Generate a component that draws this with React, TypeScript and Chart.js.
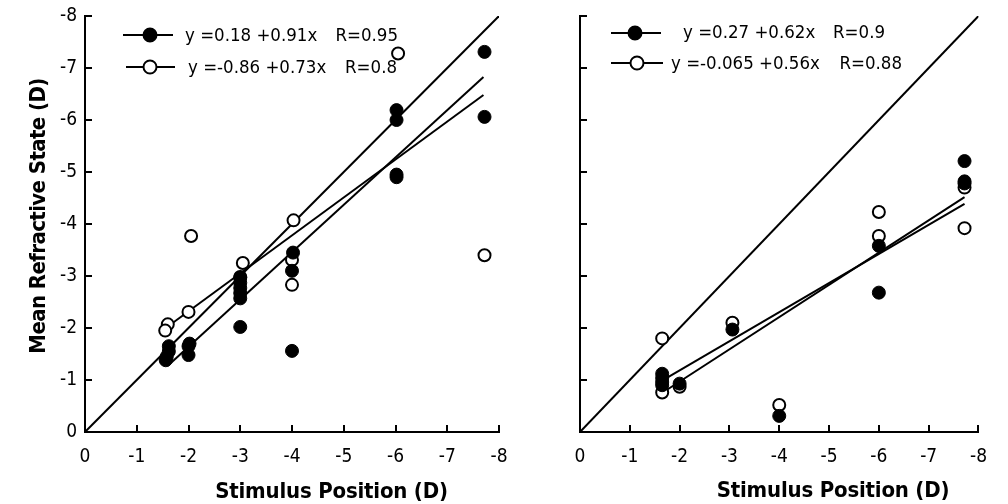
import React, { useEffect, useRef } from "react";
import { Chart, registerables } from "chart.js";

Chart.register(...registerables);

// ---------- data ----------
const axisMin = -8;
const axisMax = 0;

const leftFilled = [
  { x: -1.62, y: -1.65 }, { x: -1.62, y: -1.55 }, { x: -1.58, y: -1.45 }, { x: -1.56, y: -1.38 },
  { x: -2.02, y: -1.7 }, { x: -2.0, y: -1.65 }, { x: -2.0, y: -1.48 },
  { x: -3.0, y: -2.97 }, { x: -3.0, y: -2.87 }, { x: -3.0, y: -2.77 }, { x: -3.0, y: -2.67 }, { x: -3.0, y: -2.57 },
  { x: -3.0, y: -2.02 },
  { x: -4.02, y: -3.45 }, { x: -4.0, y: -3.1 }, { x: -4.0, y: -1.56 },
  { x: -6.02, y: -6.19 }, { x: -6.02, y: -6.0 }, { x: -6.02, y: -4.95 }, { x: -6.02, y: -4.9 },
  { x: -7.72, y: -7.31 }, { x: -7.72, y: -6.06 },
];
const leftOpen = [
  { x: -1.6, y: -2.07 }, { x: -1.55, y: -1.95 },
  { x: -2.0, y: -2.31 }, { x: -2.05, y: -3.77 },
  { x: -3.05, y: -3.25 }, { x: -3.0, y: -2.98 },
  { x: -4.03, y: -4.07 }, { x: -4.0, y: -3.31 }, { x: -4.0, y: -2.83 },
  { x: -6.05, y: -7.28 },
  { x: -7.72, y: -3.4 },
];
const rightFilled = [
  { x: -1.65, y: -1.12 }, { x: -1.65, y: -1.04 }, { x: -1.65, y: -0.96 }, { x: -1.65, y: -0.9 },
  { x: -2.0, y: -0.93 },
  { x: -3.06, y: -1.97 },
  { x: -4.0, y: -0.31 },
  { x: -6.0, y: -3.58 }, { x: -6.0, y: -2.68 },
  { x: -7.72, y: -5.21 }, { x: -7.72, y: -4.82 }, { x: -7.72, y: -4.78 },
];
const rightOpen = [
  { x: -1.65, y: -1.8 }, { x: -1.65, y: -0.76 },
  { x: -2.0, y: -0.87 },
  { x: -3.06, y: -2.1 },
  { x: -4.0, y: -0.52 },
  { x: -6.0, y: -4.23 }, { x: -6.0, y: -3.77 },
  { x: -7.72, y: -4.7 }, { x: -7.72, y: -3.92 },
];

// regression fits: [intercept, slope]
const leftFitFilled = [0.18, 0.91];
const leftFitOpen = [-0.86, 0.73];
const leftFitRange = [-1.6, -7.7];
const leftR = [0.95, 0.8];
const rightFitFilled = [0.27, 0.62];
const rightFitOpen = [-0.065, 0.56];
const rightFitRange = [-1.7, -7.72];
const rightR = [0.9, 0.88];
const identityRange = [0, -8];

const xTitle = "Stimulus Position (D)";
const yTitle = "Mean Refractive State (D)";

const FONT = '"DejaVu Sans Condensed", "DejaVu Sans"';

function fitLine(fit: number[], range: number[]) {
  return range.map((x) => ({ x, y: fit[0] + fit[1] * x }));
}
function eqText(fit: number[]) {
  return `y =${fit[0]} +${fit[1]}x`;
}

const overlayPlugin = {
  id: "overlay",
  afterDraw(chart: any, _args: any, opts: any) {
    const ctx = chart.ctx as CanvasRenderingContext2D;
    ctx.save();
    ctx.fillStyle = "#000";
    ctx.strokeStyle = "#000";
    // axis titles
    ctx.font = `bold 22px ${FONT}`;
    (ctx as any).letterSpacing = "-0.2px";
    ctx.textAlign = "center";
    ctx.textBaseline = "alphabetic";
    ctx.fillText(opts.xTitle, opts.xTitleX, opts.xTitleY);
    if (opts.yTitle) {
      (ctx as any).letterSpacing = "-0.6px";
      ctx.save();
      ctx.translate(opts.yTitleX, opts.yTitleY);
      ctx.rotate(-Math.PI / 2);
      ctx.fillText(opts.yTitle, 0, 0);
      ctx.restore();
    }
    (ctx as any).letterSpacing = "0px";
    // legend
    ctx.font = `18.5px ${FONT}`;
    for (const it of opts.legend) {
      ctx.lineWidth = 2;
      ctx.beginPath();
      ctx.moveTo(it.lx1, it.my);
      ctx.lineTo(it.lx2, it.my);
      ctx.stroke();
      ctx.beginPath();
      ctx.arc(it.mx, it.my, 6.5, 0, Math.PI * 2);
      ctx.fillStyle = it.filled ? "#000" : "#fff";
      ctx.fill();
      ctx.stroke();
      ctx.fillStyle = "#000";
      ctx.textAlign = "left";
      ctx.fillText(it.eq, it.tx, it.ty);
      ctx.textAlign = "right";
      ctx.fillText(it.r, it.rx, it.ty);
    }
    ctx.restore();
  },
};

function makeConfig(p: any) {
  const gridOpts = {
    display: true,
    drawOnChartArea: false,
    drawTicks: true,
    tickLength: -7,
    color: "#000",
    lineWidth: 2,
  };
  const borderOpts = { display: true, color: "#000", width: 2 };
  const tickFont = { family: FONT, size: 19 };
  return {
    type: "scatter" as const,
    data: {
      datasets: [
        {
          data: p.filled,
          backgroundColor: "#000",
          borderColor: "#000",
          borderWidth: 1,
          pointRadius: 6.5,
          order: 0,
        },
        {
          data: p.open,
          backgroundColor: "#fff",
          borderColor: "#000",
          borderWidth: 2,
          pointRadius: 6,
          order: 1,
        },
        {
          data: fitLine(p.fitFilled, p.fitRange),
          showLine: true,
          borderColor: "#000",
          borderWidth: 2,
          pointRadius: 0,
          order: 2,
        },
        {
          data: fitLine(p.fitOpen, p.fitRange),
          showLine: true,
          borderColor: "#000",
          borderWidth: 2,
          pointRadius: 0,
          order: 2,
        },
        {
          data: fitLine([0, 1], identityRange),
          showLine: true,
          borderColor: "#000",
          borderWidth: 2,
          pointRadius: 0,
          order: 2,
        },
      ],
    },
    options: {
      animation: false,
      responsive: false,
      events: [],
      layout: { padding: { top: 16, right: p.padRight, left: 0, bottom: 0 } },
      plugins: {
        legend: { display: false },
        tooltip: { enabled: false },
        overlay: p.overlay,
      },
      scales: {
        x: {
          type: "linear",
          min: axisMin,
          max: axisMax,
          reverse: true,
          ticks: { stepSize: 1, color: "#000", font: tickFont, padding: 21, maxRotation: 0, autoSkip: false },
          grid: gridOpts,
          border: borderOpts,
          afterFit: (s: any) => {
            s.height = 72;
          },
        },
        y: {
          type: "linear",
          min: axisMin,
          max: axisMax,
          reverse: true,
          ticks: { stepSize: 1, color: "#000", font: tickFont, padding: 15, display: p.showYLabels },
          grid: gridOpts,
          border: borderOpts,
          afterFit: (s: any) => {
            s.width = p.yWidth;
            s.paddingTop = 8;
            s.paddingBottom = 8;
          },
        },
      },
    },
    plugins: [overlayPlugin],
  };
}

function Panel(props: { cfg: any; left: number; width: number }) {
  const ref = useRef<HTMLCanvasElement | null>(null);
  useEffect(() => {
    if (!ref.current) return;
    const chart = new Chart(ref.current, props.cfg);
    return () => chart.destroy();
  }, []);
  return (
    <canvas
      ref={ref}
      width={props.width}
      height={504}
      style={{ position: "absolute", left: props.left, top: 0, width: props.width, height: 504 }}
    />
  );
}

export default function App() {
  const leftCfg = makeConfig({
    filled: leftFilled,
    open: leftOpen,
    fitFilled: leftFitFilled,
    fitOpen: leftFitOpen,
    fitRange: leftFitRange,
    padRight: 41,
    yWidth: 85,
    showYLabels: true,
    overlay: {
      xTitle,
      xTitleX: 331.5,
      xTitleY: 498,
      yTitle,
      yTitleX: 45,
      yTitleY: 216,
      legend: [
        { filled: true, lx1: 123, lx2: 173, mx: 150, my: 35, eq: eqText(leftFitFilled), tx: 185, ty: 40.6, r: `R=${leftR[0]}`, rx: 398 },
        { filled: false, lx1: 126, lx2: 175, mx: 150, my: 67, eq: eqText(leftFitOpen), tx: 188, ty: 73.3, r: `R=${leftR[1]}`, rx: 397 },
      ],
    },
  });
  const rightCfg = makeConfig({
    filled: rightFilled,
    open: rightOpen,
    fitFilled: rightFitFilled,
    fitOpen: rightFitOpen,
    fitRange: rightFitRange,
    padRight: 12,
    yWidth: 40,
    showYLabels: false,
    overlay: {
      xTitle,
      xTitleX: 293,
      xTitleY: 497,
      yTitle: "",
      legend: [
        { filled: true, lx1: 71, lx2: 121, mx: 95, my: 33, eq: eqText(rightFitFilled), tx: 143, ty: 38.3, r: `R=${rightR[0]}`, rx: 345 },
        { filled: false, lx1: 71, lx2: 123, mx: 97, my: 63, eq: eqText(rightFitOpen), tx: 131, ty: 69, r: `R=${rightR[1]}`, rx: 362 },
      ],
    },
  });
  return (
    <div style={{ position: "absolute", left: 0, top: 0, width: 1008, height: 504, background: "#fff" }}>
      <Panel cfg={leftCfg} left={0} width={540} />
      <Panel cfg={rightCfg} left={540} width={468} />
    </div>
  );
}
